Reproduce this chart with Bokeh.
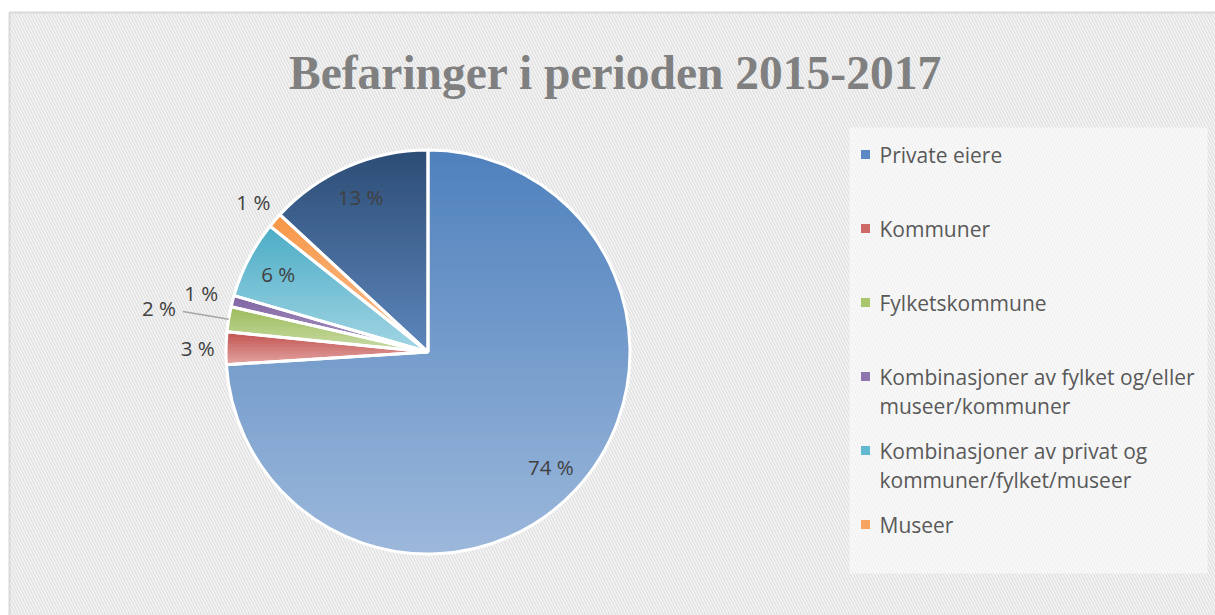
import numpy as np
import textwrap
from bokeh.plotting import figure
from bokeh.models import ColumnDataSource, Range1d
from bokeh.core.properties import value
from bokeh.embed import file_html
from bokeh.resources import INLINE

# ---------------- data ----------------
title_text = "Befaringer i perioden 2015-2017"
categories = [
    "Private eiere",
    "Kommuner",
    "Fylketskommune",
    "Kombinasjoner av fylket og/eller museer/kommuner",
    "Kombinasjoner av privat og kommuner/fylket/museer",
    "Museer",
    "Andre",
]
values = [74.0, 2.6, 2.0, 0.9, 6.2, 1.2, 13.1]
legend_shown = 6  # the reference legend only shows the first six entries

# ---------------- styles ----------------
top_colors = ["#4F81BD", "#C0504D", "#9BBB59", "#8064A2", "#4BACC6", "#F79646", "#2C4D75"]
bottom_colors = ["#9CB8DB", "#E2A3A1", "#CADCA8", "#AB98C6", "#A3D6E4", "#FBC196", "#5E86BC"]
legend_colors = ["#5B89C6", "#CD6A67", "#A9C66F", "#8E75AE", "#62B8D0", "#F8A461", "#3A5F8F"]
label_radius = [0.835, 1.14, 1.35, 1.16, 0.835, 1.14, 0.835]
leader_slices = [2]

W, H = 1215, 615


def px(X):
    return X


def py(Y):
    return H - Y


cx, cy, R = px(427.5), py(351.5), 202.0

p = figure(width=W, height=H, output_backend="svg", toolbar_location=None,
           x_axis_type=None, y_axis_type=None, min_border=0,
           x_range=Range1d(0, W), y_range=Range1d(0, H))
p.outline_line_color = None
p.background_fill_color = "white"
p.border_fill_color = "white"
p.grid.visible = False

# hatched chart background with border
p.quad(left=[px(9)], right=[W + 20], top=[py(12)], bottom=[-20],
       fill_color="white", hatch_pattern="\\", hatch_color="#E4E4E4",
       hatch_scale=6, hatch_weight=2.0,
       line_color="#D9D9D9", line_width=2)

# legend box (lighter area)
p.quad(left=[px(849)], right=[px(1207)], top=[py(127)], bottom=[py(573)],
       fill_color="white", fill_alpha=0.5, line_color=None)

# ---------------- pie ----------------
vals = np.array(values, dtype=float)
frac = vals / vals.sum()
cum = np.cumsum(frac)
start = np.pi / 2 - 2 * np.pi * (cum - frac)
end = np.pi / 2 - 2 * np.pi * cum
mid = (start + end) / 2


def hex2rgb(h):
    h = h.lstrip("#")
    return np.array([int(h[i:i + 2], 16) for i in (0, 2, 4)], dtype=float)


def rgb2hex(c):
    return "#%02x%02x%02x" % tuple(int(round(v)) for v in c)


def clip(pts, yc, keep_below):
    out = []
    n = len(pts)
    for i in range(n):
        x1, y1 = pts[i - 1]
        x2, y2 = pts[i]
        in1 = (y1 <= yc) if keep_below else (y1 >= yc)
        in2 = (y2 <= yc) if keep_below else (y2 >= yc)
        if in2:
            if not in1:
                t = (yc - y1) / (y2 - y1)
                out.append((x1 + t * (x2 - x1), yc))
            out.append((x2, y2))
        elif in1:
            t = (yc - y1) / (y2 - y1)
            out.append((x1 + t * (x2 - x1), yc))
    return out


gx, gy, gc = [], [], []
for i in range(len(vals)):
    n_arc = max(10, int(frac[i] * 480))
    th = np.linspace(start[i], end[i], n_arc)
    poly = [(cx, cy)] + [(cx + R * np.cos(t), cy + R * np.sin(t)) for t in th]
    ys_all = [q[1] for q in poly]
    ymax, ymin = max(ys_all), min(ys_all)
    nstrip = max(4, int((ymax - ymin) / 3))
    h = (ymax - ymin) / nstrip
    c0, c1 = hex2rgb(top_colors[i]), hex2rgb(bottom_colors[i])
    for k in range(nstrip):
        hi = ymax - k * h + 0.4
        lo = ymax - (k + 1) * h - 0.4
        part = clip(clip(poly, hi, True), lo, False)
        if len(part) < 3:
            continue
        t = (k + 0.5) / nstrip
        gx.append([q[0] for q in part])
        gy.append([q[1] for q in part])
        gc.append(rgb2hex(c0 + (c1 - c0) * t))

p.patches(xs=gx, ys=gy, fill_color=gc, line_color=gc, line_width=0.8)

pie_src = ColumnDataSource(dict(cat=categories, val=values,
                                start=start, end=end))
p.wedge(x=cx, y=cy, radius=R, start_angle="start", end_angle="end",
        direction="clock", fill_color=None, line_color="white",
        line_width=3, source=pie_src)

# leader lines
for i in leader_slices:
    p.segment(x0=[cx + 1.23 * R * np.cos(mid[i])], y0=[cy + 1.23 * R * np.sin(mid[i])],
              x1=[cx + 1.0 * R * np.cos(mid[i])], y1=[cy + 1.0 * R * np.sin(mid[i])],
              line_color="#A6A6A6", line_width=1.5)

# data labels
lab_src = ColumnDataSource(dict(
    x=[cx + label_radius[i] * R * np.cos(mid[i]) for i in range(len(vals))],
    y=[cy + label_radius[i] * R * np.sin(mid[i]) for i in range(len(vals))],
    t=["%d %%" % round(v) for v in values],
))
p.text(x="x", y="y", text="t", source=lab_src, text_font=value("Open Sans"),
       text_font_size="20.5px", text_color="#404040",
       text_align="center", text_baseline="middle")

# title
p.text(x=[px(615)], y=[py(72)], text=[title_text], text_font=value("Liberation Serif"),
       text_font_style="bold", text_font_size="47.5px", text_color="#808080",
       text_align="center", text_baseline="alphabetic")

# ---------------- legend ----------------
leg_first_y = 154
leg_step = 74
leg_line_h = 29.5
mk_x, mk_y, tx_x, tx_y, tx_t = [], [], [], [], []
for i in range(legend_shown):
    y0 = leg_first_y + leg_step * i
    mk_x.append(px(865))
    mk_y.append(py(y0))
    for j, line in enumerate(textwrap.wrap(categories[i], width=32)):
        tx_x.append(px(879))
        tx_y.append(py(y0 + j * leg_line_h))
        tx_t.append(line)

p.scatter(x=mk_x, y=mk_y, marker="square", size=9,
          fill_color=legend_colors[:legend_shown], line_color=None)
p.text(x=tx_x, y=tx_y, text=tx_t, text_font=value("Open Sans"),
       text_font_size="21px", text_color="#595959",
       text_align="left", text_baseline="middle")

open("out.html", "w").write(file_html(p, INLINE))
